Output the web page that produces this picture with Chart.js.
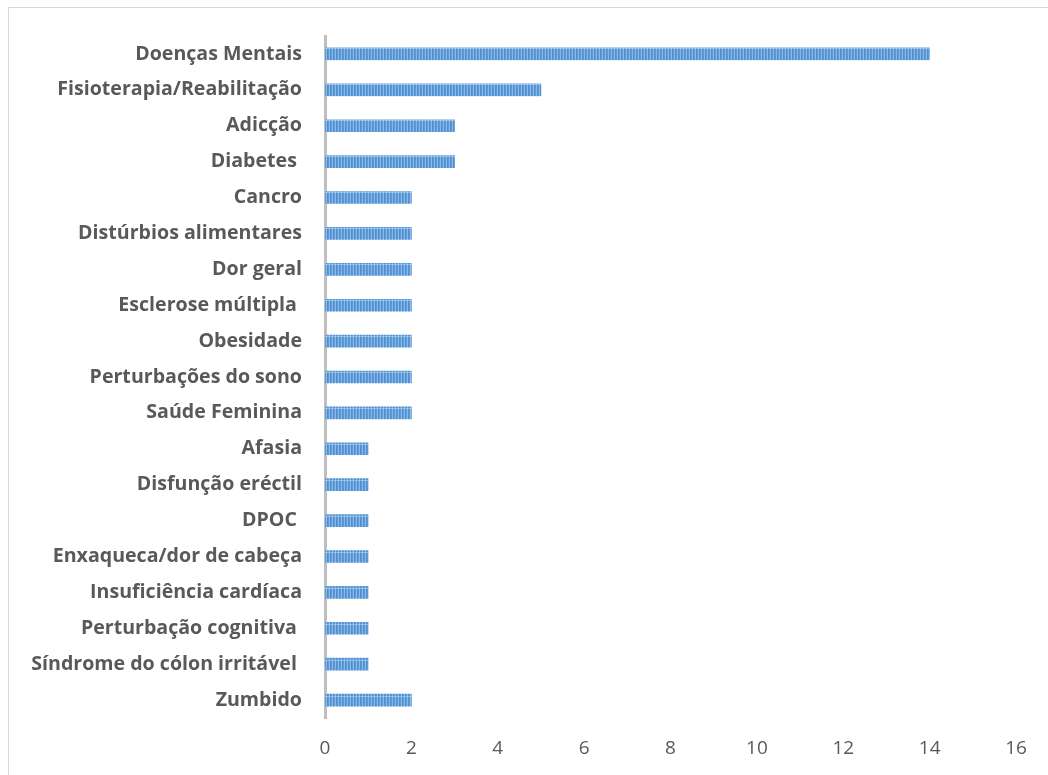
<!DOCTYPE html>
<html><head><meta charset="utf-8">
<script src="https://cdn.jsdelivr.net/npm/chart.js@4.4.0/dist/chart.umd.min.js"></script>
<style>
html,body{margin:0;padding:0;background:#fff;overflow:hidden;}
#frame{position:absolute;left:8px;top:7px;width:1100px;height:800px;border:1px solid #d9d9d9;box-sizing:border-box;}
#wrap{position:absolute;left:0;top:0;width:1048px;height:775px;}
</style></head>
<body>
<div id="frame"></div>
<div id="wrap"><canvas id="c" width="1048" height="775"></canvas></div>
<script>
const categories = ["Doenças Mentais","Fisioterapia/Reabilitação","Adicção","Diabetes ","Cancro","Distúrbios alimentares","Dor geral","Esclerose múltipla ","Obesidade","Perturbações do sono","Saúde Feminina","Afasia","Disfunção eréctil","DPOC ","Enxaqueca/dor de cabeça","Insuficiência cardíaca","Perturbação cognitiva ","Síndrome do cólon irritável ","Zumbido"];
const values = [14,5,3,3,2,2,2,2,2,2,2,1,1,1,1,1,1,1,2];
const xTicks = [0,2,4,6,8,10,12,14,16];

const pc = document.createElement('canvas');
pc.width = 3; pc.height = 12;
const pctx = pc.getContext('2d');
pctx.fillStyle = '#5d9bd8'; pctx.fillRect(0,0,3,12);
pctx.fillStyle = '#4f8fd0'; pctx.fillRect(0,0,1,12);
pctx.fillStyle = '#8bb9e8'; pctx.fillRect(2,0,1,12);
pctx.fillStyle = 'rgba(170,205,240,0.7)'; pctx.fillRect(0,0,3,1);
const pattern = document.getElementById('c').getContext('2d').createPattern(pc,'repeat');

new Chart(document.getElementById('c'), {
  type: 'bar',
  data: { labels: categories, datasets: [{ data: values, backgroundColor: pattern, borderWidth: 0, barThickness: 12 }] },
  options: {
    indexAxis: 'y', responsive: false, animation: false,
    layout: { padding: { top: 36, right: 32, left: 0, bottom: 0 } },
    plugins: { legend: { display: false }, tooltip: { enabled: false } },
    scales: {
      x: {
        min: 0, max: 16,
        afterBuildTicks: s => { s.ticks = xTicks.map(v => ({ value: v })); },
        afterFit: s => { s.height = 57; },
        grid: { display: false, drawTicks: false },
        border: { display: false },
        ticks: { color: '#595959', font: { family: 'Open Sans', size: 19 }, padding: 19 }
      },
      y: {
        afterFit: s => { s.width = 325; },
        grid: { display: false, drawTicks: false },
        border: { display: true, color: '#bfbfbf', width: 3 },
        ticks: { color: '#595959', font: { family: 'Open Sans', size: 19.6, weight: 'bold' }, padding: 23 }
      }
    }
  }
});
</script>
</body></html>
